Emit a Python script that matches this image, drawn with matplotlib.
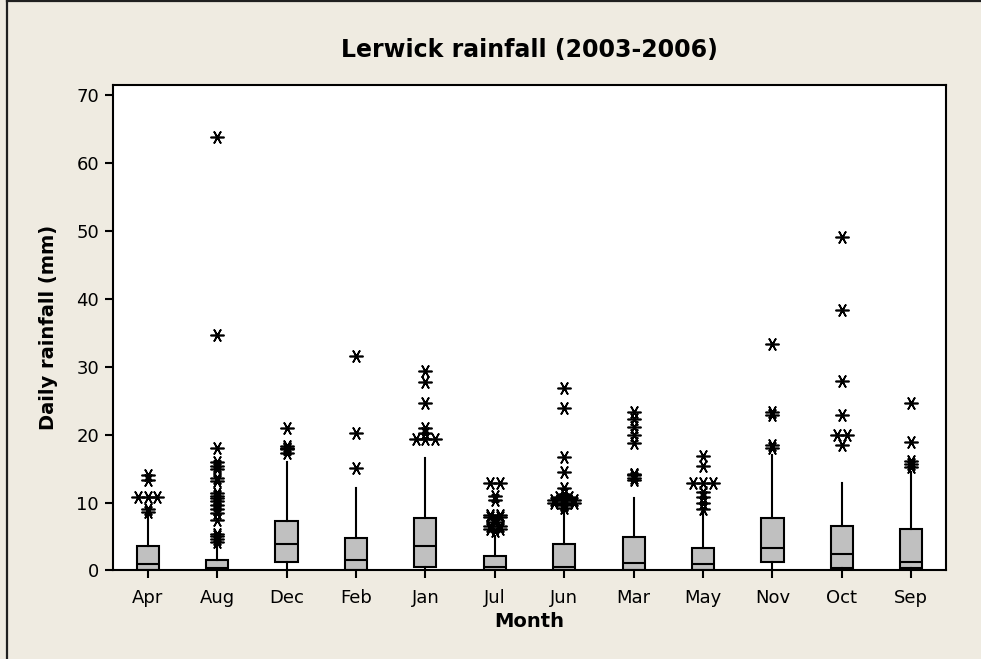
import numpy as np
import matplotlib.pyplot as plt

# Lerwick daily rainfall box summaries
months = ["Apr", "Aug", "Dec", "Feb", "Jan", "Jul", "Jun", "Mar", "May", "Nov", "Oct", "Sep"]
q1 = [0, 0, 1.3, 0, 0.55, 0, 0, 0, 0, 1.3, 0.3, 0.3]
medians = [0.9, 0.4, 3.9, 1.55, 3.65, 0.55, 0.5, 1.1, 0.9, 3.35, 2.4, 1.3]
q3 = [3.65, 1.6, 7.3, 4.8, 7.7, 2.1, 3.85, 4.9, 3.35, 7.7, 6.6, 6.1]
whisker_lo = [0, 0, 0, 0, 0, 0, 0, 0, 0, 0, 0, 0]
whisker_hi = [8.3, 3.8, 16.0, 12.2, 16.5, 5.0, 9.0, 10.7, 8.4, 17.0, 12.9, 14.5]

outliers = [
    [8.6, 9.0, 10.85, 10.85, 10.85, 13.3, 14.0],
    [4.2, 4.6, 5.0, 5.4, 7.4, 8.4, 9.0, 9.6, 10.2, 10.6, 11.0, 11.4,
     13.2, 13.6, 15.0, 15.4, 16.0, 18.0, 34.6, 63.8],
    [17.3, 17.8, 18.0, 18.3, 21.0],
    [15.1, 20.2, 31.5],
    [19.3, 19.3, 19.3, 20.2, 20.9, 24.6, 27.7, 29.3],
    [5.8, 6.1, 6.1, 6.6, 6.6, 7.2, 7.6, 7.8, 7.8, 8.2, 8.2, 10.4, 11.0, 12.8, 12.8],
    [9.2, 9.6, 9.8, 10.0, 10.0, 10.0, 10.4, 10.4, 10.4, 10.8, 10.8, 11.2,
     12.2, 14.5, 16.7, 23.9, 26.8],
    [13.3, 13.6, 14.0, 14.2, 18.8, 19.9, 21.1, 22.3, 23.3],
    [9.0, 9.9, 10.8, 11.5, 12.9, 12.9, 12.9, 15.3, 16.9],
    [18.0, 18.5, 22.9, 23.3, 33.3],
    [18.4, 19.9, 19.9, 22.8, 27.8, 38.3, 49.1],
    [15.2, 15.6, 16.1, 18.9, 24.7],
]

bg = "#EFEBE1"
plt.rcParams["font.family"] = "DejaVu Sans"

fig = plt.figure(figsize=(9.81, 6.59), dpi=100, facecolor=bg)
ax = fig.add_axes([0.1152, 0.1343, 0.8491, 0.7367])
ax.set_facecolor("white")

stats = []
for i, m in enumerate(months):
    stats.append(dict(label=m, q1=q1[i], med=medians[i], q3=q3[i],
                      whislo=whisker_lo[i], whishi=whisker_hi[i], fliers=[]))

pos = np.arange(1, len(months) + 1)
ax.bxp(stats, positions=pos, widths=0.32, patch_artist=True, showcaps=False,
       boxprops=dict(facecolor="#C0C0C0", edgecolor="black", linewidth=1.5),
       medianprops=dict(color="black", linewidth=1.5),
       whiskerprops=dict(color="black", linewidth=1.5))

# tied outliers are drawn side by side, as Minitab does
for p, vals in zip(pos, outliers):
    vals = np.array(vals)
    for v in np.unique(vals):
        n = np.sum(vals == v)
        offs = (np.arange(n) - (n - 1) / 2) * 0.14
        ax.plot(p + offs, [v] * n, linestyle="none", marker=(6, 2, 30),
                markersize=10, markeredgewidth=1.2, color="black")

ax.set_xlim(0.5, len(months) + 0.5)
ax.set_ylim(0, 71.4)
ax.set_yticks([0, 10, 20, 30, 40, 50, 60, 70])
ax.set_xticks(pos)
ax.set_xticklabels(months)
ax.tick_params(direction="out", length=6, width=1.5, labelsize=13)
ax.tick_params(axis="x", pad=7)
ax.tick_params(axis="y", pad=4)
for s in ax.spines.values():
    s.set_linewidth(1.5)

ax.set_title("Lerwick rainfall (2003-2006)", fontsize=17, fontweight="bold", pad=20)
ax.set_xlabel("Month", fontsize=14, fontweight="bold", labelpad=4)
ax.set_ylabel("Daily rainfall (mm)", fontsize=14, fontweight="bold", labelpad=13)

# outer frame lines at left and top of the graph window
fig.add_artist(plt.Line2D([0.007, 0.007], [0, 0.998], transform=fig.transFigure,
                          color="#202020", linewidth=1.6))
fig.add_artist(plt.Line2D([0.007, 1], [0.998, 0.998], transform=fig.transFigure,
                          color="#202020", linewidth=1.6))

fig.savefig("out.png", dpi=100, facecolor=bg)
